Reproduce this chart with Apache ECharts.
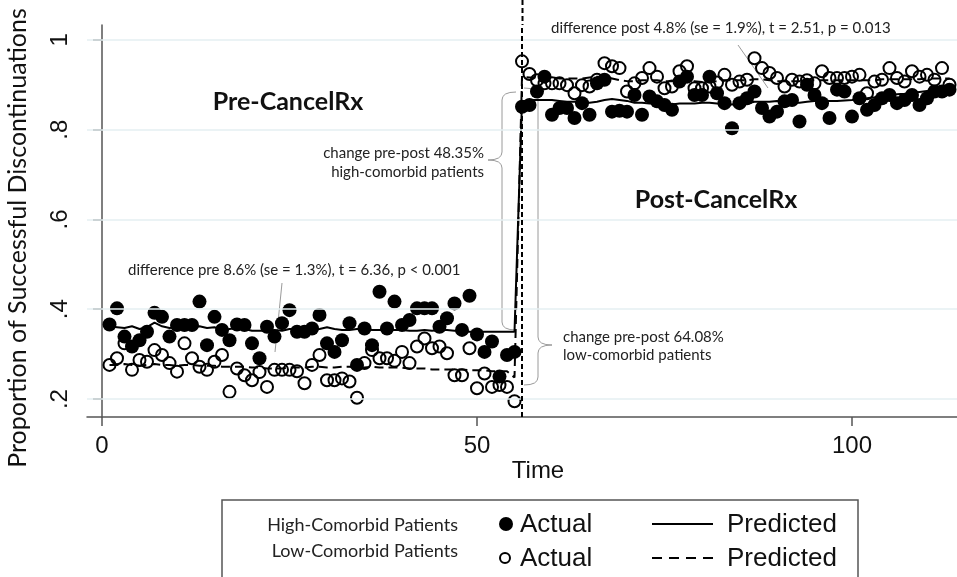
<!DOCTYPE html>
<html>
<head>
<meta charset="utf-8">
<script src="https://cdn.jsdelivr.net/npm/echarts/dist/echarts.min.js"></script>
<style>
  html, body { margin: 0; padding: 0; background: #fff; }
  #main { width: 957px; height: 577px; }
</style>
</head>
<body>
<div id="main"></div>
<script>
// time index runs 1..113, CancelRx starts at t = 56
var cutoff = 56;
var xTicks = [0, 50, 100];
var yTicks = [0.2, 0.4, 0.6, 0.8, 1];

// high-comorbid patients, actual
var highActual = [
  .366,.402,.339,.317,.331,.350,.392,.383,.339,.365,.365,.365,.417,.320,.383,.354,.331,.366,.365,.324,
  .291,.361,.339,.369,.398,.350,.350,.357,.387,.324,.305,.331,.369,.276,.357,.320,.439,.357,.417,.365,
  .376,.402,.402,.402,.361,.380,.413,.354,.430,.344,.305,.328,.250,.298,.305,
  .851,.855,.885,.918,.833,.848,.848,.826,.859,.833,.903,.911,.840,.842,.840,.877,.833,.874,.863,.855,
  .844,.907,.918,.877,.877,.918,.881,.859,.803,.859,.870,.885,.848,.829,.840,.863,.866,.818,.900,.877,
  .859,.826,.889,.885,.829,.870,.844,.855,.870,.877,.859,.866,.877,.855,.870,.885,.885,.889
];
// low-comorbid patients, actual
var lowActual = [
  .276,.291,.324,.265,.287,.283,.309,.298,.280,.261,.324,.291,.272,.265,.283,.298,.216,.268,.253,.242,
  .260,.227,.265,.265,.265,.262,.235,.276,.298,.242,.242,.246,.239,.203,.280,.309,.291,.291,.285,.305,
  .280,.317,.335,.313,.317,.302,.253,.253,.313,.224,.257,.227,.231,.227,.195,
  .952,.924,.910,.903,.903,.903,.899,.881,.899,.896,.911,.948,.941,.937,.885,.903,.915,.937,.918,.892,
  .896,.930,.941,.892,.892,.896,.905,.922,.900,.907,.911,.959,.937,.926,.915,.896,.911,.907,.910,.903,
  .930,.915,.915,.915,.918,.922,.881,.907,.911,.937,.915,.907,.930,.918,.922,.911,.937,.900
];
// predicted
var highPred = [
  .362,.360,.358,.362,.356,.360,.370,.362,.358,.360,.360,.360,.362,.358,.360,.352,.356,.358,.356,.352,
  .352,.352,.354,.352,.356,.356,.356,.354,.356,.360,.356,.354,.354,.356,.356,.354,.354,.354,.354,.354,
  .352,.352,.354,.352,.354,.354,.352,.352,.350,.350,.350,.350,.350,.350,.350,
  .862,.866,.866,.866,.866,.864,.862,.862,.862,.860,.862,.866,.868,.866,.864,.860,.860,.858,.858,.856,
  .856,.858,.858,.858,.860,.860,.858,.856,.856,.858,.858,.862,.862,.862,.864,.862,.860,.860,.862,.864,
  .866,.864,.864,.865,.866,.868,.870,.872,.875,.877,.879,.880,.882,.884,.886,.888,.890,.892
];
var lowPred = [
  .276,.276,.278,.276,.274,.276,.278,.276,.276,.274,.276,.276,.274,.274,.274,.272,.272,.272,.272,.270,
  .270,.268,.268,.268,.270,.270,.270,.272,.272,.270,.270,.272,.272,.270,.270,.272,.270,.270,.270,.270,
  .268,.268,.268,.266,.266,.266,.266,.266,.264,.264,.264,.262,.262,.262,.248,
  .918,.916,.916,.916,.916,.914,.914,.914,.914,.916,.918,.918,.914,.910,.908,.908,.910,.910,.910,.908,
  .908,.910,.910,.908,.906,.906,.908,.910,.910,.910,.910,.912,.912,.910,.908,.908,.908,.908,.910,.910,
  .910,.910,.910,.910,.910,.910,.910,.910,.912,.912,.912,.912,.912,.912,.914,.914,.914,.914
];

function pairs(arr) {
  return arr.map(function (v, i) { return [i + 1, v]; });
}

var TXT = 'Lato, "Open Sans", sans-serif';
var ARIAL = '"Liberation Sans", Arial, sans-serif';
var GRAY = '#9a9a9a';

// gray curly bracket: straight runs as lines, tips as small curves
function bracket(x, yTop, yMid, yBot, dir) {
  // dir = -1 -> nub points left, tips point right; dir = 1 -> nub right, tips left
  var t = -dir * 14, n = dir * 14, r = 8;
  var st = { stroke: GRAY, lineWidth: 1, fill: null };
  return [
    { type: 'bezierCurve', shape: { x1: x + t, y1: yTop, cpx1: x, cpy1: yTop, x2: x, y2: yTop + r }, style: st },
    { type: 'line', shape: { x1: x, y1: yTop + r, x2: x, y2: yMid - r }, style: st },
    { type: 'bezierCurve', shape: { x1: x, y1: yMid - r, cpx1: x, cpy1: yMid, x2: x + n, y2: yMid }, style: st },
    { type: 'bezierCurve', shape: { x1: x + n, y1: yMid, cpx1: x, cpy1: yMid, x2: x, y2: yMid + r }, style: st },
    { type: 'line', shape: { x1: x, y1: yMid + r, x2: x, y2: yBot - r }, style: st },
    { type: 'bezierCurve', shape: { x1: x, y1: yBot - r, cpx1: x, cpy1: yBot, x2: x + t, y2: yBot }, style: st }
  ];
}

function label(text, x, y, size, align, extra) {
  var s = { text: text, fontSize: size, fontFamily: TXT, fill: '#222', align: align, verticalAlign: 'middle' };
  for (var k in (extra || {})) s[k] = extra[k];
  return { type: 'text', x: x, y: y, style: s };
}

function big(text, x, y) {
  return { type: 'text', x: x, y: y,
    style: { text: text, fontSize: 26, fontFamily: ARIAL, fill: '#111', align: 'left', verticalAlign: 'middle' } };
}

var chart = echarts.init(document.getElementById('main'));

chart.setOption({
  animation: false,
  backgroundColor: '#fff',
  grid: { left: 87, right: 0, top: 25, bottom: 160 },
  xAxis: {
    type: 'value', min: -2, max: 114,
    axisLine: { lineStyle: { color: '#555', width: 1.5 } },
    axisTick: { customValues: xTicks, length: 9, lineStyle: { color: '#555', width: 1.5 } },
    axisLabel: { customValues: xTicks, margin: 17, fontSize: 24, fontFamily: ARIAL, color: '#111' },
    splitLine: { show: false }
  },
  yAxis: {
    type: 'value', min: 0.16, max: 1.033,
    axisLine: { show: true, lineStyle: { color: '#555', width: 1.5 } },
    axisTick: { show: true, customValues: yTicks, length: 9, lineStyle: { color: '#555', width: 1.5 } },
    axisLabel: {
      customValues: yTicks, rotate: 90, margin: 15, fontSize: 24, fontFamily: ARIAL, color: '#111',
      formatter: function (v) { return v === 1 ? '1' : String(+v.toFixed(1)).replace('0.', '.'); }
    },
    splitLine: { show: false }
  },
  series: [
    {
      // light grid lines and the CancelRx start line
      type: 'line', data: [], silent: true, z: 1,
      markLine: {
        silent: true, symbol: 'none', label: { show: false },
        lineStyle: { color: '#e5eff2', width: 1.5, type: 'solid' },
        data: yTicks.map(function (v) { return { yAxis: v }; }).concat([
          { xAxis: cutoff, lineStyle: { color: '#000', width: 2, type: [5, 3] } }
        ])
      }
    },
    {
      name: 'High-Comorbid Actual', type: 'scatter', data: pairs(highActual),
      symbol: 'circle', symbolSize: 14, itemStyle: { color: '#000', opacity: 1 }, z: 2
    },
    {
      name: 'Low-Comorbid Actual', type: 'scatter', data: pairs(lowActual),
      symbol: 'circle', symbolSize: 12,
      itemStyle: { color: 'rgba(0,0,0,0)', borderColor: '#000', borderWidth: 2, opacity: 1 }, z: 3
    },
    {
      name: 'High-Comorbid Predicted', type: 'line', data: pairs(highPred),
      showSymbol: false, lineStyle: { color: '#000', width: 2 }, z: 4
    },
    {
      name: 'Low-Comorbid Predicted', type: 'line', data: pairs(lowPred),
      showSymbol: false, lineStyle: { color: '#000', width: 2, type: [9, 5] }, z: 4
    }
  ],
  graphic: [
    // axis titles
    { type: 'text', x: 18, y: 238, rotation: Math.PI / 2,
      style: { text: 'Proportion of Successful Discontinuations', fontSize: 25, fontFamily: TXT,
               fill: '#111', align: 'center', verticalAlign: 'middle' } },
    { type: 'text', x: 538, y: 471,
      style: { text: 'Time', fontSize: 24, fontFamily: ARIAL, fill: '#111', align: 'center', verticalAlign: 'middle' } },
    // start line continues above the plot area
    { type: 'line', shape: { x1: 522.5, y1: 0, x2: 522.5, y2: 25 }, style: { stroke: '#000', lineWidth: 2, lineDash: [5, 3] } },

    // period labels
    label('Pre-CancelRx', 288, 102, 25, 'center', { fontWeight: 'bold', fill: '#111' }),
    label('Post-CancelRx', 716, 200, 25, 'center', { fontWeight: 'bold', fill: '#111' }),

    // difference notes
    label('difference pre 8.6% (se = 1.3%), t = 6.36, p < 0.001', 128, 270, 15, 'left'),
    { type: 'line', shape: { x1: 282, y1: 283, x2: 275, y2: 352 }, style: { stroke: GRAY, lineWidth: 1 } },
    label('difference post 4.8% (se = 1.9%), t = 2.51, p = 0.013', 551, 28, 15, 'left'),
    { type: 'line', shape: { x1: 738, y1: 45, x2: 768, y2: 88 }, style: { stroke: GRAY, lineWidth: 1 } },

    // change notes
    label('change pre-post 48.35%', 484, 153, 15, 'right'),
    label('high-comorbid patients', 484, 172, 15, 'right'),
    label('change pre-post 64.08%', 563, 337, 15, 'left'),
    label('low-comorbid patients', 563, 355, 15, 'left'),

    // legend box
    { type: 'rect', shape: { x: 222, y: 500, width: 636, height: 100 },
      style: { stroke: '#555', lineWidth: 1.5, fill: null } },
    label('High-Comorbid Patients', 458, 525, 18, 'right'),
    label('Low-Comorbid Patients', 458, 551, 18, 'right'),
    { type: 'circle', shape: { cx: 506, cy: 524, r: 7 }, style: { fill: '#000' } },
    { type: 'circle', shape: { cx: 505, cy: 558, r: 5 }, style: { fill: null, stroke: '#000', lineWidth: 2 } },
    big('Actual', 520, 525),
    big('Actual', 520, 559),
    { type: 'line', shape: { x1: 652, y1: 524, x2: 713, y2: 524 }, style: { stroke: '#000', lineWidth: 2 } },
    { type: 'line', shape: { x1: 652, y1: 558, x2: 713, y2: 558 }, style: { stroke: '#000', lineWidth: 2, lineDash: [10, 7] } },
    big('Predicted', 727, 525),
    big('Predicted', 727, 559)
  ].concat(bracket(502, 92, 160, 330, -1), bracket(538, 88, 345, 385, 1))
});
</script>
</body>
</html>
